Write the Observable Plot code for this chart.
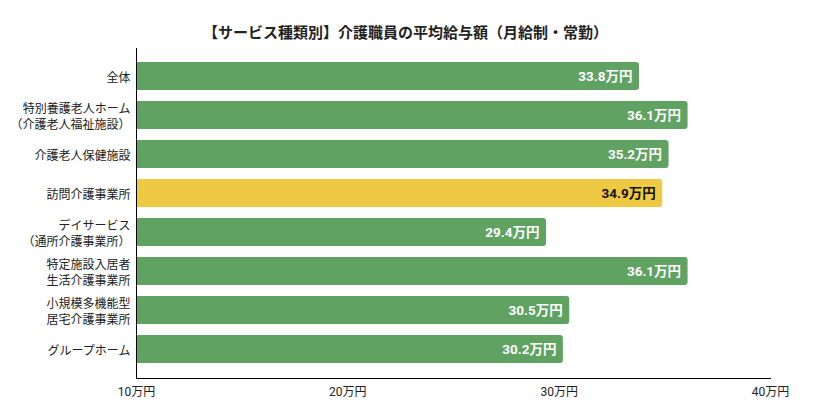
<!DOCTYPE html>
<html><head><meta charset="utf-8">
<script src="https://cdn.jsdelivr.net/npm/d3@7"></script>
<script src="https://cdn.jsdelivr.net/npm/@observablehq/plot@0.6"></script>
<style>
body{margin:0;background:#fff;}
#chart{width:813px;height:410px;}
</style></head>
<body><div id="chart"></div>
<script>
const title = "【サービス種類別】介護職員の平均給与額（月給制・常勤）";
const categories = [
  "全体",
  "特別養護老人ホーム\n（介護老人福祉施設）",
  "介護老人保健施設",
  "訪問介護事業所",
  "デイサービス\n（通所介護事業所）",
  "特定施設入居者\n生活介護事業所",
  "小規模多機能型\n居宅介護事業所",
  "グループホーム"
];
const values = [33.8, 36.1, 35.2, 34.9, 29.4, 36.1, 30.5, 30.2];
const highlight = "訪問介護事業所";
const xTicks = [10, 20, 30, 40];
const unit = "万円";

const data = categories.map((c, i) => ({category: c, value: values[i]}));
const green = "#5fa262";
const yellow = "#efc844";
const font = "Roboto, 'Noto Sans CJK JP', sans-serif";

const plot = Plot.plot({
  width: 813,
  height: 410,
  marginTop: 48,
  marginBottom: 32,
  marginLeft: 136,
  marginRight: 43,
  style: {fontFamily: font, fontSize: "12px", color: "#222", background: "#fff"},
  x: {domain: [10, 40], label: null},
  y: {domain: categories, paddingInner: 0.28, paddingOuter: 0.33, label: null},
  marks: [
    Plot.barX(data, {
      y: "category", x1: 9.6, x2: "value", rx: 3, clip: true,
      fill: d => d.category === highlight ? yellow : green
    }),
    Plot.text(data, {
      y: "category", x: "value", dx: -7, textAnchor: "end",
      text: d => d.value.toFixed(1) + unit,
      fill: d => d.category === highlight ? "#111" : "#fff",
      fontWeight: "bold", fontSize: 13.5
    }),
    Plot.axisY({tickSize: 0, tickPadding: 6, lineHeight: 1.35, label: null, fill: "#222"}),
    Plot.axisX({ticks: xTicks, tickFormat: d => d + unit, tickSize: 0, tickPadding: 9, label: null, fill: "#222"}),
    Plot.frame({anchor: "bottom", stroke: "#000"}),
    Plot.ruleX([10], {stroke: "#000"}),
    Plot.text([title], {frameAnchor: "top", dy: -21, dx: -48, fontWeight: "bold", fontSize: 15, fill: "#222"})
  ]
});
document.getElementById("chart").appendChild(plot);
</script>
</body></html>
